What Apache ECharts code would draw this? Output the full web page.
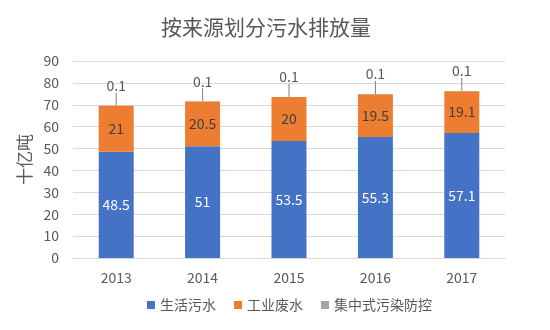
<!DOCTYPE html>
<html>
<head>
<meta charset="utf-8">
<script src="https://cdn.jsdelivr.net/npm/echarts@6/dist/echarts.min.js"></script>
<style>
  html, body { margin: 0; padding: 0; background: #ffffff; }
  #chart { width: 550px; height: 330px; }
</style>
</head>
<body>
<div id="chart"></div>
<script>
// Wastewater discharge by source, billion tonnes
const years = ['2013', '2014', '2015', '2016', '2017'];
const domestic = [48.5, 51, 53.5, 55.3, 57.1];
const industrial = [21, 20.5, 20, 19.5, 19.1];
const centralized = [0.1, 0.1, 0.1, 0.1, 0.1];
const yTicks = [0, 10, 20, 30, 40, 50, 60, 70, 80, 90];

const FONT = '"Noto Sans CJK SC", "Noto Sans", sans-serif';
const TEXT = '#595959';

const chart = echarts.init(document.getElementById('chart'));
chart.setOption({
  animation: false,
  textStyle: { fontFamily: FONT },
  title: {
    text: '按来源划分污水排放量',
    left: 261, top: 12, textAlign: 'center',
    textStyle: { fontSize: 21, fontWeight: 'normal', color: TEXT, fontFamily: FONT }
  },
  legend: {
    bottom: 13, left: 142,
    itemWidth: 8, itemHeight: 8, itemGap: 18,
    icon: 'rect',
    textStyle: { fontSize: 14, color: TEXT, fontFamily: FONT }
  },
  grid: { left: 73, right: 45, top: 61, bottom: 72 },
  xAxis: {
    type: 'category', data: years,
    axisLine: { show: true, lineStyle: { color: '#d9d9d9' } },
    axisTick: { show: false },
    axisLabel: { fontSize: 14, color: TEXT, margin: 13 }
  },
  yAxis: {
    type: 'value',
    min: yTicks[0], max: yTicks[yTicks.length - 1], interval: 10,
    name: '十亿吨', nameLocation: 'middle', nameGap: 40, nameRotate: 90,
    nameTextStyle: { fontSize: 17, color: TEXT, fontFamily: FONT },
    axisLine: { show: false }, axisTick: { show: false },
    axisLabel: { fontSize: 14, color: TEXT, margin: 14 },
    splitLine: { lineStyle: { color: '#d9d9d9' } }
  },
  series: [
    {
      name: '生活污水', type: 'bar', stack: 'total', data: domestic,
      barWidth: 35,
      itemStyle: { color: '#4472C4' },
      label: { show: true, position: 'inside', color: '#ffffff', fontSize: 14 }
    },
    {
      name: '工业废水', type: 'bar', stack: 'total', data: industrial,
      itemStyle: { color: '#ED7D31' },
      label: { show: true, position: 'inside', color: '#404040', fontSize: 14 }
    },
    {
      name: '集中式污染防控', type: 'bar', stack: 'total', data: centralized,
      itemStyle: { color: '#A5A5A5' },
      label: { show: true, position: 'top', distance: 4, color: TEXT, fontSize: 14 },
      labelLayout: { dy: -9 },
      labelLine: { show: true, lineStyle: { color: '#7f7f7f', width: 1 } }
    }
  ]
});
</script>
</body>
</html>
